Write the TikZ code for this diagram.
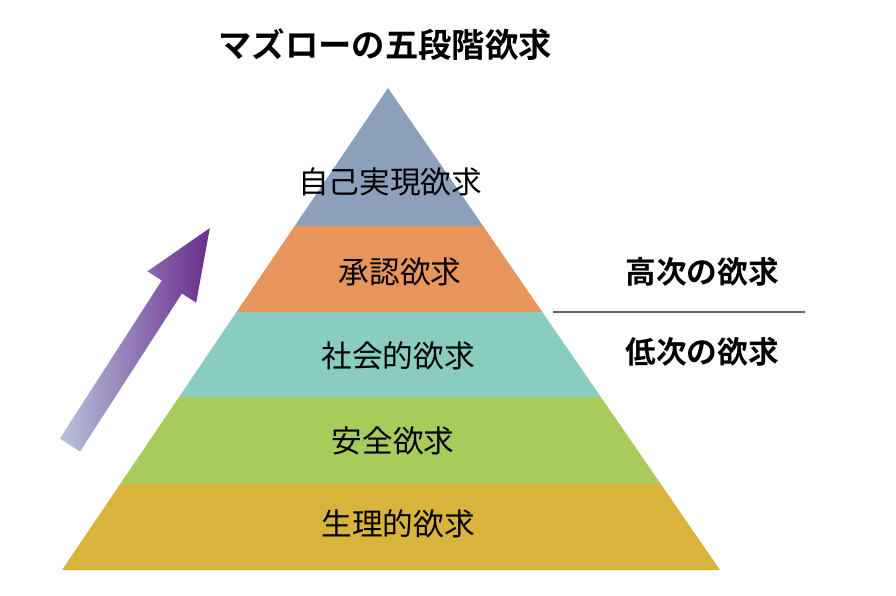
\documentclass[tikz,border=0pt]{standalone}
\usepackage{fontspec}
\setmainfont{Noto Sans CJK JP}
\newfontfamily\jpb{Noto Sans CJK JP Bold}
\usetikzlibrary{calc}
\definecolor{cA}{HTML}{8CA0BC}
\definecolor{cB}{HTML}{E8955C}
\definecolor{cC}{HTML}{88CDC0}
\definecolor{cD}{HTML}{A9CB5B}
\definecolor{cE}{HTML}{D9B43C}
\definecolor{cArrowA}{HTML}{B8C4DC}
\definecolor{cArrowB}{HTML}{6A2C8C}
\tikzset{lbl/.style={font=\fontsize{23}{25}\selectfont},
 side/.style={font=\jpb\fontsize{23}{25}\selectfont},
 layer/.style={draw=none}}
\begin{document}
\begin{tikzpicture}[x=0.75pt,y=-0.75pt]
\useasboundingbox (0,0) rectangle (896,596);
\fill[white] (0,0) rectangle (896,596);
\coordinate (ap) at (388,88);
\coordinate (bl) at (62,570);
\coordinate (br) at (720,570);
\foreach \n/\t in {1/0.2863,2/0.4647,3/0.6411,4/0.8216}{
  \coordinate (l\n) at ($(ap)!\t!(bl)$);
  \coordinate (r\n) at ($(ap)!\t!(br)$);}
\fill[cA,layer] (ap) -- (l1) -- (r1) -- cycle;
\fill[cB,layer] (l1) -- (l2) -- (r2) -- (r1) -- cycle;
\fill[cC,layer] (l2) -- (l3) -- (r3) -- (r2) -- cycle;
\fill[cD,layer] (l3) -- (l4) -- (r4) -- (r3) -- cycle;
\fill[cE,layer] (l4) -- (bl) -- (br) -- (r4) -- cycle;
\node[lbl] (t1) at (390,182) {自己実現欲求};
\node[lbl] (t2) at (400,272) {承認欲求};
\node[lbl] (t3) at (398,356) {社会的欲求};
\node[lbl] (t4) at (393,441) {安全欲求};
\node[lbl] (t5) at (398,524) {生理的欲求};
\node[font=\jpb\fontsize{25}{27}\selectfont] (title) at (385,45) {マズローの五段階欲求};
\node[side] (hi) at (702,272) {高次の欲求};
\node[side] (lo) at (702,352) {低次の欲求};
\coordinate (s1) at (553,312);
\coordinate (s2) at (805,312);
\draw[gray!80!black,line width=1.6pt] (s1) -- (s2);
\begin{scope}[shift={(70,445)},rotate=57.2]
\shade[left color=cArrowA,right color=cArrowB]
 (0,-12) -- (188,-12) -- (188,-29) -- (258,0) -- (188,29) -- (188,12) -- (0,12) -- cycle;
\end{scope}
\end{tikzpicture}
\end{document}
